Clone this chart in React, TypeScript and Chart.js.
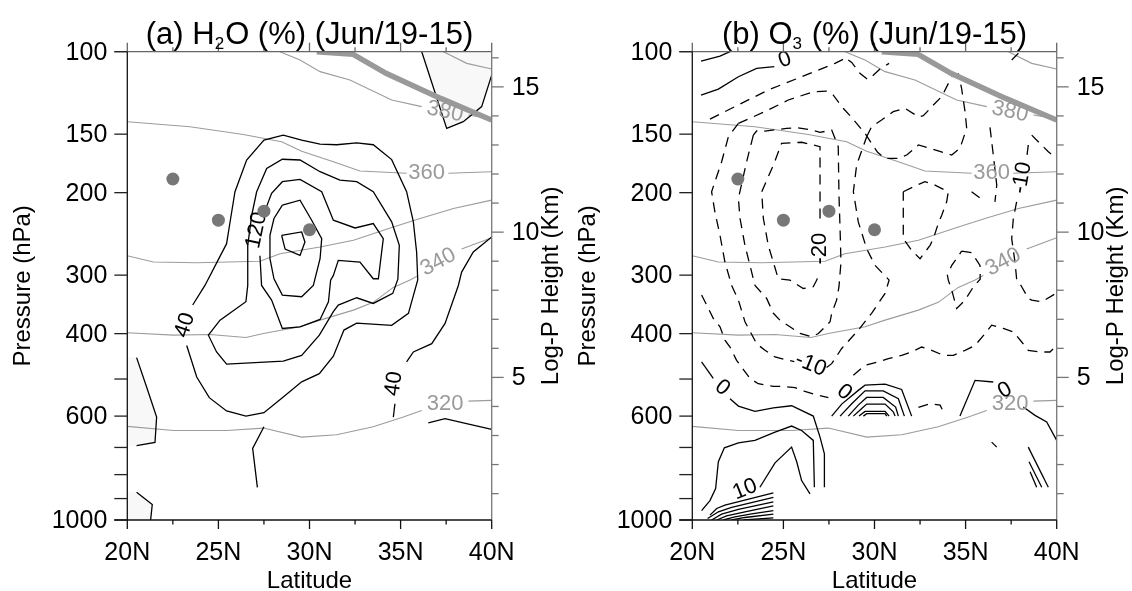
import React, { useEffect, useRef } from "react";
import { Chart, registerables } from "chart.js";

Chart.register(...registerables);

type Pt = [number, number]; // [latitude (deg N), pressure (hPa)]
type Lbl = { text: string; lat: number; p: number; angle: number };

const FONT = '"Liberation Sans", Arial, Helvetica, sans-serif';

// ---------- axes ----------
const latTicks = [20, 22.5, 25, 27.5, 30, 32.5, 35, 37.5, 40];
const latLabels = ["20N", "", "25N", "", "30N", "", "35N", "", "40N"];
const presTicks = [100, 150, 200, 300, 400, 500, 600, 700, 800, 900, 1000];
const presLabels = ["100", "150", "200", "300", "400", "", "600", "", "", "", "1000"];
const hgtTicks = [1, 2, 3, 4, 5, 6, 7, 8, 9, 10, 11, 12, 13, 14, 15, 16];
const hgtLabels = ["", "", "", "", "5", "", "", "", "", "10", "", "", "", "", "15", ""];

// ---------- isentropes (shared by both panels) ----------
const theta380a: Pt[] = [[28.38, 100], [29.48, 104.2], [30.58, 110.3], [32.22, 114.9], [34.51, 126.8], [36.16, 131.0]];
const theta380b: Pt[] = [[38.72, 136.5], [40, 139.2]];
const theta390: Pt[] = [[37.35, 100], [38.63, 105.9], [40, 108.9]];
const theta360a: Pt[] = [[20, 141.1], [23.44, 144.6], [26.37, 150.2], [28.47, 155.7], [29.57, 163.1], [31.31, 171.8], [32.77, 179.8], [35.33, 181.8]];
const theta360b: Pt[] = [[37.62, 181.8], [40, 180.4]];
const theta350: Pt[] = [[20, 272.7], [21.43, 281.3], [23.81, 282.2], [27.28, 280.2], [28.38, 270.0], [30.58, 261.2], [32.41, 252.8], [34.6, 236.7], [36.07, 227.1], [37.9, 216.2], [40, 207.5]];
const theta340a: Pt[] = [[20, 398.2], [22.53, 403.0], [24.54, 401.7], [26.51, 407.6], [27.47, 399.7], [29.48, 386.8], [30.58, 374.3], [32.41, 356.3], [33.5, 343.0], [34.6, 318.7], [35.52, 307.4], [35.97, 300.4]];
const theta340b: Pt[] = [[38.35, 263.9], [40, 249.7]];
const theta320a: Pt[] = [[20, 631.2], [22.53, 643.8], [25.45, 643.8], [27.47, 636.4], [29.57, 665.2], [31.49, 657.7], [33.5, 632.4], [35.15, 602.8], [36.16, 583.4]];
const theta320b: Pt[] = [[38.72, 557.4], [40, 555.4]];
const thetaLabels: Lbl[] = [
  { text: "380", lat: 37.44, p: 134.3, angle: 12 },
  { text: "360", lat: 36.43, p: 181.8, angle: 0 },
  { text: "340", lat: 37.07, p: 281.3, angle: -28 },
  { text: "320", lat: 37.44, p: 564.6, angle: 0 },
];

const tropopause: Pt[] = [[30.4, 100], [32.4, 101.3], [34.2, 111.2], [37.2, 125.8], [40, 139.9]];
const dotLat = [22.5, 25, 27.5, 30];
const dotP = [187, 229, 219, 240];

// ---------- panel (a): H2O (%) ----------
const h2o40West: Pt[] = [[23.26, 424], [23.81, 495], [24.5, 548], [25.45, 585], [26.51, 600], [27.5, 590], [28.56, 546], [29.57, 507], [30.54, 487], [31.31, 447], [31.89, 393], [32.59, 380], [34.51, 384], [35.43, 362], [35.94, 307], [35.88, 268], [35.7, 231], [35.33, 199], [34.51, 170], [33.5, 158], [32.59, 156.5], [31.49, 158], [30.58, 157.5], [29.57, 154.4], [28.56, 150.7], [27.5, 154.4], [26.55, 170.3], [25.91, 199], [25.64, 231], [25.45, 257], [24.26, 315.6], [23.59, 347.5]];
const h2o80: Pt[] = [[27.1, 199.1], [26.83, 223.4], [26.61, 259.1], [26.61, 315.6], [26.51, 341.9], [25.09, 374.3], [24.45, 403.0], [24.9, 437.8], [25.45, 464.6], [28.56, 457.8], [29.57, 445.0], [30.54, 403.0], [31.31, 359.0], [31.58, 347.5], [32.59, 335.3], [33.5, 344.8], [34.57, 328.2], [34.85, 306], [34.93, 259.1], [34.51, 230.9], [33.5, 199.1], [32.59, 189.5], [31.67, 188.0], [30.58, 180.4], [29.48, 170.3], [28.51, 169.7], [27.65, 177.5], [27.1, 199.1]];
const h2o120: Pt[] = [[27.28, 272.7], [27.37, 315.6], [27.92, 339.2], [28.51, 390.0], [29.48, 386.8], [30.58, 373.0], [31.04, 341.9], [31.16, 307.4], [31.31, 300.4], [31.58, 279.0], [32.77, 281.3], [33.5, 305.4], [33.78, 305.4], [34.05, 250.7], [33.5, 232.8], [32.5, 237.9], [31.31, 229.0], [30.67, 199.1], [29.48, 187.3], [28.51, 189.5], [27.92, 200.7], [27.5, 221.5]];
const h2o160: Pt[] = [[28.51, 212.7], [29.48, 207.5], [30.12, 229.0], [30.67, 250.7], [30.58, 276.7], [30.21, 315.6], [29.57, 333.6], [28.51, 330.9], [28.05, 305.4], [27.83, 276.7], [27.83, 246.6], [28.05, 227.1], [28.51, 212.7]];
const h2o200: Pt[] = [[28.47, 246.6], [29.57, 242.6], [29.75, 254.9], [29.48, 272.2], [28.66, 263.9], [28.47, 246.6]];
const h2o40EastA: Pt[] = [[40, 248.7], [38.99, 267.8], [38.35, 295.5], [38.17, 315.6], [37.44, 380.5], [36.71, 420.3], [35.7, 437.8], [35.33, 459.8]];
const h2o40EastB: Pt[] = [[34.69, 564.6], [34.6, 602.8]];
const h2oLowEast: Pt[] = [[36.52, 620], [37.44, 607.8], [38.44, 620], [40, 640.7]];
const h2oLowMid: Pt[] = [[27.5, 632], [26.88, 703], [27.14, 852]];
const maskWestLine: Pt[] = [[20.51, 450], [21.06, 520], [21.61, 603], [21.52, 683], [20.51, 694]];
const maskSWLine: Pt[] = [[20.51, 872.5], [21.37, 927], [21.28, 1000]];
const maskNELine: Pt[] = [[36.16, 100], [37.53, 145.8], [38.44, 141.1], [39.45, 131.0], [40, 112.2]];
const maskWestFill: Pt[] = [[20, 450], ...maskWestLine, [20, 694]];
const maskSWFill: Pt[] = [[20, 872.5], ...maskSWLine, [20, 1000]];
const maskNEFill: Pt[] = [...maskNELine, [40, 100]];
const h2oLabels: Lbl[] = [
  { text: "40", lat: 23.17, p: 383.7, angle: -72 },
  { text: "120", lat: 27.1, p: 240.6, angle: -78 },
  { text: "40", lat: 34.64, p: 511.6, angle: -82 },
];

// ---------- panel (b): O3 (%) ----------
const o3Zero1: Pt[] = [[20.48, 104.7], [21.52, 102.2], [22.07, 100]];
const o3Zero2: Pt[] = [[20.48, 123.8], [21.43, 120.2], [22.53, 113.1], [23.53, 108.5], [24.5, 107.6]];
const o3Zero3a: Pt[] = [[20.51, 459.8], [21.15, 498.6]];
const o3Zero3b: Pt[] = [[22.07, 550.8], [22.53, 571.2], [23.44, 586.3], [24.45, 575.9], [25.45, 570.3], [26.64, 599.9], [27.01, 665.2], [27.25, 722.4], [27.25, 851.2]];
const o3Zero4a: Pt[] = [[34.69, 600], [35.52, 503.2], [36.52, 507.4]];
const o3Zero4b: Pt[] = [[38.17, 573.9], [38.81, 597.9], [39.45, 617.8], [40, 676.2]];
const o3Pos5: Pt[] = [[20.51, 955.0], [20.97, 909.1], [21.28, 856.4], [21.43, 751.1], [21.76, 701.2], [22.53, 684.1], [23.44, 676.2], [24.54, 649.1], [25.45, 630.1], [26.0, 643.8], [26.64, 676.2], [26.7, 851.2]];
const o3Pos10: Pt[] = [[23.71, 851.2], [24.54, 754.9], [25.45, 698.9], [25.73, 751.1], [26.0, 823.7], [26.46, 879.7]];
const o3Pos15: Pt[] = [[20.97, 976.4], [21.34, 945], [21.79, 929.6], [24.45, 874.9]];
const o3Pos20: Pt[] = [[20.84, 992.5], [21.43, 960.5], [22.16, 940.2], [24.45, 895.2]];
const o3Pos25: Pt[] = [[21.06, 1000], [21.61, 971.6], [22.53, 949.6], [24.45, 914.5]];
const o3Pos30: Pt[] = [[21.34, 1000], [21.88, 979.6], [22.89, 960.5], [24.45, 932.6]];
const o3Pos35: Pt[] = [[21.7, 1000], [22.34, 984.4], [23.26, 970.8], [24.45, 955.0]];
const o3Pos40: Pt[] = [[22.16, 1000], [22.89, 987.7], [24.45, 971.6]];
const o3Pos45: Pt[] = [[22.8, 1000], [24.45, 989.3]];
const o3Bump1: Pt[] = [[27.65, 600], [28.2, 565.6], [29.11, 528.7], [29.48, 515.2], [30.58, 512.7], [31.49, 526.3], [32.04, 600]];
const o3Bump2: Pt[] = [[28.11, 600], [28.75, 564.6], [29.48, 529.8], [30.48, 529.8], [31.31, 550.8], [31.64, 600]];
const o3Bump3: Pt[] = [[28.56, 600], [29.11, 568.5], [29.57, 547.4], [30.48, 547.4], [31.16, 573.9], [31.31, 600]];
const o3Bump4: Pt[] = [[28.84, 600], [29.3, 577.8], [29.57, 565.6], [30.58, 565.6], [31.03, 587.4], [31.13, 600]];
const o3Bump5: Pt[] = [[29.15, 600], [29.48, 586.3], [30.58, 586.3], [30.8, 600]];
const o3Bump6: Pt[] = [[29.39, 600], [29.57, 593], [30.58, 593], [30.67, 600]];
const o3PosE1: Pt[] = [[36.43, 681.8], [36.71, 698.9]];
const o3PosE2: Pt[] = [[38.44, 698.9], [39.54, 851.2]];
const o3PosE3: Pt[] = [[38.48, 751.1], [39.18, 851.2]];
const o3PosE4: Pt[] = [[38.54, 789], [38.9, 851.2]];

const o3NegA: Pt[] = [[20.97, 139.3], [22.34, 131.0], [24.17, 120.7], [25.91, 113.5], [27.83, 105.9], [28.38, 103.3]];
const o3NegB: Pt[] = [[22.53, 142.3], [24.08, 133.7], [25.27, 126.8], [26.64, 121.8], [27.37, 121.4], [27.74, 123.8], [28.2, 131.0], [28.66, 137.0], [29.48, 149.4], [29.84, 157.0], [30.17, 164.0], [30.58, 169.0], [31.31, 169.0], [31.77, 166.2], [32.41, 158.2], [33.05, 160.8], [34.24, 166.2], [34.69, 160.8], [35.06, 145.8], [34.97, 134.3], [34.78, 119.8], [34.6, 111.2]];
const o3NegC: Pt[] = [[28.56, 104.2], [28.75, 105.4], [29.2, 111.2], [29.62, 114.6], [29.84, 113.1], [30.3, 108.9], [30.8, 105.9]];
const o3NegD: Pt[] = [[29.57, 151.9], [29.84, 144.6], [30.39, 139.9], [31.03, 134.3], [31.67, 132.1], [32.41, 137.7], [32.68, 137.0], [33.23, 130.0], [33.69, 124.7], [34.24, 113.1]];
const o3Neg10Wa: Pt[] = [[22.53, 142.3], [21.98, 151.9], [21.61, 171.8], [21.06, 199.1], [21.24, 219.8], [21.52, 246.6], [21.79, 281.3], [22.16, 315.6], [22.53, 339.2], [22.89, 377.3], [23.53, 420.3], [23.99, 434.2], [24.54, 448.6], [25.27, 456.1], [25.6, 459]];
const o3Neg10Wb: Pt[] = [[27.37, 472.3], [27.65, 463.6], [28.2, 430.2], [29.11, 393.2], [29.84, 361.9], [30.58, 328.2], [30.8, 307.4], [30.03, 285.9], [29.57, 263.4], [29.11, 230.9], [28.84, 199.1], [29.02, 174.6], [29.57, 151.9]];
const o3Neg15: Pt[] = [[23.35, 150.7], [22.98, 171.8], [22.53, 205.8], [22.62, 227.1], [22.89, 259.1], [23.44, 315.6], [24.08, 336.4], [24.45, 361.9], [24.81, 374.3], [25.36, 386.8], [25.91, 399.7], [26.55, 406.4], [26.92, 399.7], [27.56, 377.3], [27.65, 361.9], [27.92, 339.2], [28.05, 317.6], [28.16, 281.3], [28.11, 238.7], [28.05, 202.4], [28.01, 159.5], [27.65, 147.0], [27.01, 148.7], [26.55, 147.0], [25.73, 145.3], [25.18, 145.8], [23.99, 147.7], [23.53, 147.7], [23.35, 150.7]];
const o3Neg20: Pt[] = [[27.01, 227.1], [27.01, 186.4], [27.01, 159.5], [26.0, 156.1], [24.9, 157.0], [24.45, 174.6], [23.81, 199.1], [23.9, 227.1], [24.17, 259.1], [24.72, 305.4], [25.36, 307.4], [26.09, 320.3], [26.64, 317.6], [26.83, 307.4], [26.92, 300.4]];
const o3NegE: Pt[] = [[31.58, 199.1], [32.13, 194.3], [32.77, 189.5], [33.32, 192.7], [34.05, 199.1], [33.96, 209.2], [33.69, 223.4], [33.5, 232.8], [33.23, 250.7], [33.05, 259.1], [32.5, 276.7], [32.04, 265.6], [31.58, 250.7], [31.58, 212.7], [31.58, 199.1]];
const o3NegF: Pt[] = [[35.33, 199.1], [35.7, 204.1], [36.07, 209.2]];
const o3Neg10Ea: Pt[] = [[38.44, 158.2], [38.35, 169.0]];
const o3Neg10Eb: Pt[] = [[37.8, 209.2], [37.62, 227.1], [37.53, 250.7], [37.71, 281.3], [37.8, 305.4], [38.08, 317.6], [38.44, 336.4], [38.63, 339.2], [39.18, 341.9], [39.82, 330.6], [40, 325.3]];
const o3NegG: Pt[] = [[36.34, 145.1], [36.52, 166.2], [36.71, 192.7], [36.61, 209.2]];
const o3NegH: Pt[] = [[38.63, 150.7], [38.99, 155.7], [39.54, 163.5], [40, 169.0]];
const o3NegI: Pt[] = [[37.53, 104.2], [37.9, 100.8]];
const o3NegJ: Pt[] = [[34.78, 266.7], [35.33, 268.7], [35.79, 285.9], [35.8, 306], [35.43, 317.6], [34.97, 339.2], [34.51, 353.4], [34.24, 322.9], [34.05, 307.4], [34.0, 300], [34.24, 285.9], [34.78, 266.7]];
const o3NegK: Pt[] = [[20.51, 330.9], [20.79, 347.5], [21.15, 371.1], [21.52, 386.8], [21.79, 412.9], [22.07, 427.2], [22.43, 456.1], [23.17, 498.6], [23.62, 511.6], [24.45, 518.4], [25.0, 518.4], [25.64, 521.8], [26.18, 531.6], [26.92, 541.9], [27.47, 548.1]];
const o3NegL: Pt[] = [[28.84, 491.0], [29.48, 467.4], [30.21, 459.8], [30.76, 452.3], [31.49, 445.0], [32.04, 437.8], [32.59, 427.2], [33.14, 434.2], [33.78, 445.0], [34.33, 445.0], [34.97, 434.2], [35.52, 423.7], [36.07, 399.7], [36.43, 383.7], [37.07, 390.0], [37.62, 396.5], [38.08, 416.8], [38.44, 434.2], [39.08, 437.8], [39.63, 437.8], [40, 423.7]];
const o3NegM: Pt[] = [[32.41, 575], [33.05, 564.6], [33.6, 568.5], [33.87, 597.9]];
const o3Labels: Lbl[] = [
  { text: "0", lat: 25.09, p: 104.2, angle: -20 },
  { text: "-20", lat: 27.01, p: 263.4, angle: -90 },
  { text: "-10", lat: 38.1, p: 186, angle: -80 },
  { text: "-10", lat: 26.5, p: 466, angle: 22 },
  { text: "0", lat: 21.65, p: 521.8, angle: 40 },
  { text: "0", lat: 28.34, p: 533.4, angle: 40 },
  { text: "0", lat: 37.16, p: 528.7, angle: -30 },
  { text: "10", lat: 22.89, p: 860.6, angle: -22 },
];

const isentropes: Pt[][] = [theta380a, theta380b, theta390, theta360a, theta360b, theta350, theta340a, theta340b, theta320a, theta320b];

interface Panel {
  key: string;
  title: [string, boolean][];
  padLeft: number;
  padRight: number;
  fills: Pt[][];
  solid: Pt[][];
  dashed: Pt[][];
  labels: Lbl[];
}

const panelA: Panel = {
  key: "a",
  title: [["(a) H", false], ["2", true], ["O (%) (Jun/19-15)", false]],
  padLeft: 127.3,
  padRight: 74.3,
  fills: [maskWestFill, maskSWFill, maskNEFill],
  solid: [h2o40West, h2o80, h2o120, h2o160, h2o200, h2o40EastA, h2o40EastB, h2oLowEast, h2oLowMid, maskWestLine, maskSWLine, maskNELine],
  dashed: [],
  labels: h2oLabels,
};

const panelB: Panel = {
  key: "b",
  title: [["(b) O", false], ["3", true], [" (%) (Jun/19-15)", false]],
  padLeft: 126.3,
  padRight: 75.3,
  fills: [],
  solid: [o3Zero1, o3Zero2, o3Zero3a, o3Zero3b, o3Zero4a, o3Zero4b, o3Pos5, o3Pos10, o3Pos15, o3Pos20, o3Pos25, o3Pos30, o3Pos35, o3Pos40, o3Pos45, o3Bump1, o3Bump2, o3Bump3, o3Bump4, o3Bump5, o3Bump6, o3PosE1, o3PosE2, o3PosE3, o3PosE4],
  dashed: [o3NegA, o3NegB, o3NegC, o3NegD, o3Neg10Wa, o3Neg10Wb, o3Neg15, o3Neg20, o3NegE, o3NegF, o3Neg10Ea, o3Neg10Eb, o3NegG, o3NegH, o3NegI, o3NegJ, o3NegK, o3NegL, o3NegM],
  labels: o3Labels,
};

const toXY = (pts: Pt[]) => pts.map(([x, y]) => ({ x, y }));

function drawLabels(chart: any, labels: Lbl[], color: string, size: number) {
  const ctx = chart.ctx as CanvasRenderingContext2D;
  const xs = chart.scales.x, ys = chart.scales.y;
  ctx.save();
  ctx.font = `${size}px ${FONT}`;
  ctx.fillStyle = color;
  ctx.textAlign = "center";
  ctx.textBaseline = "middle";
  for (const l of labels) {
    ctx.save();
    ctx.translate(xs.getPixelForValue(l.lat), ys.getPixelForValue(l.p));
    ctx.rotate((l.angle * Math.PI) / 180);
    ctx.fillText(l.text, 0, 0);
    ctx.restore();
  }
  ctx.restore();
}

function drawFrame(chart: any, panel: Panel) {
  const ctx = chart.ctx as CanvasRenderingContext2D;
  const { left: L, right: R, top: T, bottom: B } = chart.chartArea;
  const xs = chart.scales.x, ys = chart.scales.y;
  const seg = (c: string, x1: number, y1: number, x2: number, y2: number) => {
    ctx.strokeStyle = c;
    ctx.lineWidth = 1.3;
    ctx.beginPath();
    ctx.moveTo(x1, y1);
    ctx.lineTo(x2, y2);
    ctx.stroke();
  };
  const hp = (z: number) => ys.getPixelForValue(1013.25 * Math.exp(-z / 7));
  ctx.save();
  // top
  seg("#666", L - 13, T, R, T);
  latTicks.forEach((v, i) => {
    const x = xs.getPixelForValue(v);
    seg("#666", x, T, x, T - (latLabels[i] ? 9 : 4.5));
  });
  // right
  seg("#777", R, T, R, B);
  hgtTicks.forEach((z, i) => {
    const y = hp(z);
    seg("#777", R, y, R + (hgtLabels[i] ? 12 : 7), y);
  });
  // left
  seg("#111", L, T, L, B);
  presTicks.forEach((p) => {
    const y = ys.getPixelForValue(p);
    seg("#222", L - 13, y, L, y);
  });
  // bottom
  seg("#111", L - 13, B, R, B);
  latTicks.forEach((v, i) => {
    const x = xs.getPixelForValue(v);
    seg("#111", x, B, x, B + (latLabels[i] ? 9 : 4.5));
  });

  ctx.fillStyle = "#000";
  ctx.font = `25px ${FONT}`;
  ctx.textAlign = "right";
  ctx.textBaseline = "middle";
  presTicks.forEach((p, i) => {
    if (presLabels[i]) ctx.fillText(presLabels[i], L - 20, ys.getPixelForValue(p) + 1);
  });
  ctx.textAlign = "center";
  ctx.textBaseline = "alphabetic";
  latTicks.forEach((v, i) => {
    if (latLabels[i]) ctx.fillText(latLabels[i], xs.getPixelForValue(v), B + 40);
  });
  ctx.textAlign = "left";
  ctx.textBaseline = "middle";
  hgtTicks.forEach((z, i) => {
    if (hgtLabels[i]) ctx.fillText(hgtLabels[i], R + 20, hp(z) + 1);
  });

  ctx.font = `24px ${FONT}`;
  ctx.textAlign = "center";
  ctx.textBaseline = "alphabetic";
  ctx.fillText("Latitude", (L + R) / 2, 588);
  const mid = (T + B) / 2;
  const vtext = (t: string, x: number) => {
    ctx.save();
    ctx.translate(x, mid);
    ctx.rotate(-Math.PI / 2);
    ctx.textBaseline = "middle";
    ctx.fillText(t, 0, 0);
    ctx.restore();
  };
  vtext("Pressure (hPa)", L - 104);
  vtext("Log-P Height (Km)", R + 60);

  // title with subscript
  const big = `31px ${FONT}`;
  const small = `17px ${FONT}`;
  let total = 0;
  const widths = panel.title.map(([t, sub]) => {
    ctx.font = sub ? small : big;
    const w = ctx.measureText(t).width + (sub ? 1 : 0);
    total += w;
    return w;
  });
  let x = (L + R) / 2 - total / 2;
  ctx.textAlign = "left";
  ctx.textBaseline = "alphabetic";
  panel.title.forEach(([t, sub], i) => {
    ctx.font = sub ? small : big;
    ctx.fillText(t, x, sub ? 49 : 44);
    x += widths[i];
  });
  ctx.restore();
}

function buildConfig(panel: Panel): any {
  const datasets: any[] = [];
  panel.fills.forEach((f) =>
    datasets.push({ data: toXY(f), showLine: true, fill: "shape", backgroundColor: "#f8f8f8", borderWidth: 0, borderColor: "rgba(0,0,0,0)", pointRadius: 0, order: 100 })
  );
  isentropes.forEach((l) =>
    datasets.push({ data: toXY(l), showLine: true, fill: false, borderColor: "#9c9c9c", borderWidth: 1.1, pointRadius: 0, order: 50 })
  );
  panel.solid.forEach((l) =>
    datasets.push({ data: toXY(l), showLine: true, fill: false, borderColor: "#000", borderWidth: 1.3, pointRadius: 0, order: 40 })
  );
  panel.dashed.forEach((l) =>
    datasets.push({ data: toXY(l), showLine: true, fill: false, borderColor: "#000", borderWidth: 1.3, borderDash: [10, 7], pointRadius: 0, order: 40 })
  );
  datasets.push({ label: "tropopause", data: toXY(tropopause), showLine: true, fill: false, borderColor: "#999", borderWidth: 5.5, pointRadius: 0, order: 20 });
  datasets.push({ label: "dots", data: dotLat.map((x, i) => ({ x, y: dotP[i] })), showLine: false, pointRadius: 6.5, pointBackgroundColor: "#777", backgroundColor: "#777", pointBorderWidth: 0, borderWidth: 0, order: 10 });

  const plugin = {
    id: "frame" + panel.key,
    beforeDatasetDraw(chart: any, args: any) {
      if (chart.data.datasets[args.index].label === "tropopause") {
        drawLabels(chart, thetaLabels, "#9a9a9a", 22);
        drawLabels(chart, panel.labels, "#000", 22);
      }
    },
    afterDraw(chart: any) {
      drawFrame(chart, panel);
    },
  };

  return {
    type: "scatter",
    data: { datasets },
    options: {
      animation: false,
      responsive: false,
      devicePixelRatio: 1,
      events: [],
      layout: { padding: { left: panel.padLeft, right: panel.padRight, top: 51.7, bottom: 71 } },
      elements: { line: { tension: 0 } },
      scales: {
        x: { type: "linear", min: 20, max: 40, display: false },
        y: { type: "logarithmic", min: 100, max: 1000, reverse: true, display: false },
      },
      plugins: { legend: { display: false }, tooltip: { enabled: false }, title: { display: false } },
    },
    plugins: [plugin],
  };
}

export default function App() {
  const refA = useRef<HTMLCanvasElement>(null);
  const refB = useRef<HTMLCanvasElement>(null);
  useEffect(() => {
    const a = new Chart(refA.current as HTMLCanvasElement, buildConfig(panelA));
    const b = new Chart(refB.current as HTMLCanvasElement, buildConfig(panelB));
    return () => {
      a.destroy();
      b.destroy();
    };
  }, []);
  return (
    <div style={{ position: "absolute", left: 0, top: 0, width: 1132, height: 591, background: "#fff", overflow: "hidden" }}>
      <canvas ref={refA} width={566} height={591} style={{ position: "absolute", left: 0, top: 0, width: 566, height: 591 }} />
      <canvas ref={refB} width={566} height={591} style={{ position: "absolute", left: 566, top: 0, width: 566, height: 591 }} />
    </div>
  );
}
